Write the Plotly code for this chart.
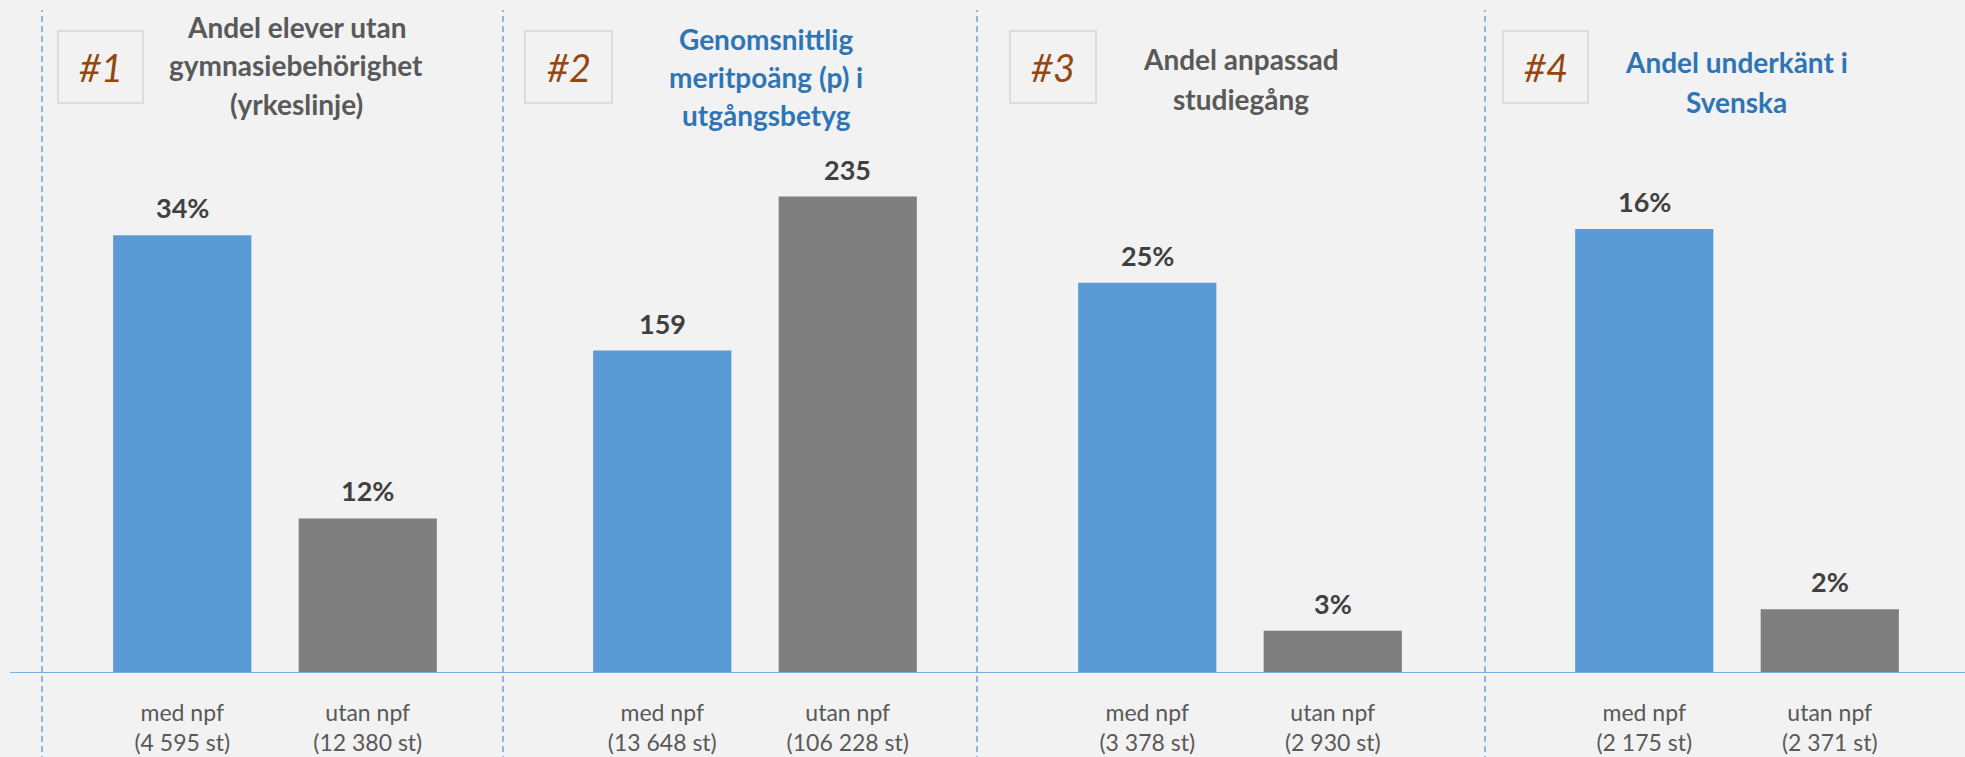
import plotly.graph_objects as go

# ---------------- data ----------------
panel_numbers = ["#1", "#2", "#3", "#4"]
panel_titles = [
    ["Andel elever utan", "gymnasiebehörighet", "(yrkeslinje)"],
    ["Genomsnittlig", "meritpoäng (p) i", "utgångsbetyg"],
    ["Andel anpassad", "studiegång"],
    ["Andel underkänt i", "Svenska"],
]
title_colors = ["#595959", "#2E75B6", "#595959", "#2E75B6"]

categories_1 = ["med npf<br>(4 595 st)", "utan npf<br>(12 380 st)"]
categories_2 = ["med npf<br>(13 648 st)", "utan npf<br>(106 228 st)"]
categories_3 = ["med npf<br>(3 378 st)", "utan npf<br>(2 930 st)"]
categories_4 = ["med npf<br>(2 175 st)", "utan npf<br>(2 371 st)"]

values_1 = [34, 12]      # %
values_2 = [159, 235]    # meritpoäng
values_3 = [25, 2.7]     # %
values_4 = [16, 2.3]     # %

label_suffix = ["%", "", "%", "%"]

categories = [categories_1, categories_2, categories_3, categories_4]
values = [values_1, values_2, values_3, values_4]

# ---------------- layout helpers ----------------
W, H = 1965, 757
TOP, BOTTOM = 100, 84
PLOT_H = H - TOP - BOTTOM
BASE_Y = H - BOTTOM


def xp(px):
    return px / W


def yp(py):
    return (BASE_Y - py) / PLOT_H


panel_x = [(89.5, 460.5), (569.5, 940.5), (1054.5, 1425.5), (1551.5, 1922.5)]
y_max = [44.5, 282.6, 36.7, 20.65]
title_cx = [296, 766, 1241, 1736]
title_y = [[25, 63, 102], [37, 75, 113], [57, 97], [60, 100]]
box_x = [(58, 143), (525, 612), (1010, 1096), (1503, 1588)]
box_y = (31, 103)
sep_x = [42, 503, 977, 1485]

BLUE = "#5B9BD5"
GRAY = "#7F7F7F"
BG = "#F2F2F2"
FONT = "Lato"

fig = go.Figure()
annotations = []
shapes = []

for i in range(4):
    ax = "" if i == 0 else str(i + 1)
    fig.add_trace(go.Bar(
        x=categories[i], y=values[i],
        marker=dict(color=[BLUE, GRAY], line=dict(width=0)),
        width=0.745,
        xaxis="x" + ax, yaxis="y" + ax,
        showlegend=False, hoverinfo="skip",
    ))
    fig.update_layout(**{
        "xaxis" + ax: dict(
            domain=[xp(panel_x[i][0]), xp(panel_x[i][1])],
            type="category", range=[-0.5, 1.5],
            showgrid=False, zeroline=False, showline=False,
            ticks="", ticklabelstandoff=24, automargin=False,
            tickfont=dict(family=FONT, size=23, color="#595959"),
            anchor="y" + ax, fixedrange=True,
        ),
        "yaxis" + ax: dict(
            domain=[0, 1], range=[0, y_max[i]], automargin=False,
            visible=False, anchor="x" + ax, fixedrange=True,
        ),
    })
    for c, v in zip(categories[i], values[i]):
        annotations.append(dict(
            x=c, y=v, xref="x" + ax, yref="y" + ax,
            text=f"<b>{v:.0f}{label_suffix[i]}</b>",
            showarrow=False, yanchor="bottom", yshift=9,
            font=dict(family=FONT, size=27, color="#404040"),
        ))
    shapes.append(dict(
        type="rect", xref="paper", yref="paper",
        x0=xp(box_x[i][0]), x1=xp(box_x[i][1]),
        y0=yp(box_y[1]), y1=yp(box_y[0]),
        line=dict(color="#DCDCDC", width=2), fillcolor=BG, layer="below",
    ))
    annotations.append(dict(
        x=xp((box_x[i][0] + box_x[i][1]) / 2), y=yp(67),
        xref="paper", yref="paper", showarrow=False,
        xanchor="center", yanchor="middle",
        text=f"<i>{panel_numbers[i]}</i>",
        font=dict(family=FONT, size=38, color="#94470F"),
    ))
    for line, ly in zip(panel_titles[i], title_y[i]):
        annotations.append(dict(
            x=xp(title_cx[i]), y=yp(ly + 2),
            xref="paper", yref="paper", showarrow=False,
            xanchor="center", yanchor="middle",
            text=f"<b>{line}</b>",
            font=dict(family=FONT, size=28, color=title_colors[i]),
        ))

for sx in sep_x:
    shapes.append(dict(
        type="line", xref="paper", yref="paper",
        x0=xp(sx), x1=xp(sx), y0=yp(H + 5), y1=yp(10),
        line=dict(color="#8DB8E2", width=2, dash="6px,4px"), layer="below",
    ))

shapes.append(dict(
    type="line", xref="paper", yref="y",
    x0=xp(10), x1=1, y0=0, y1=0,
    line=dict(color="#7AAEDE", width=2), layer="above",
))

fig.update_layout(
    width=W, height=H,
    margin=dict(l=0, r=0, t=TOP, b=BOTTOM, pad=0, autoexpand=False),
    paper_bgcolor=BG, plot_bgcolor=BG,
    annotations=annotations, shapes=shapes,
    font=dict(family=FONT),
)

fig.write_html(
    "out.html",
    config={"displayModeBar": False},
    post_script="document.body.style.margin='0';document.body.style.overflow='hidden';",
)
